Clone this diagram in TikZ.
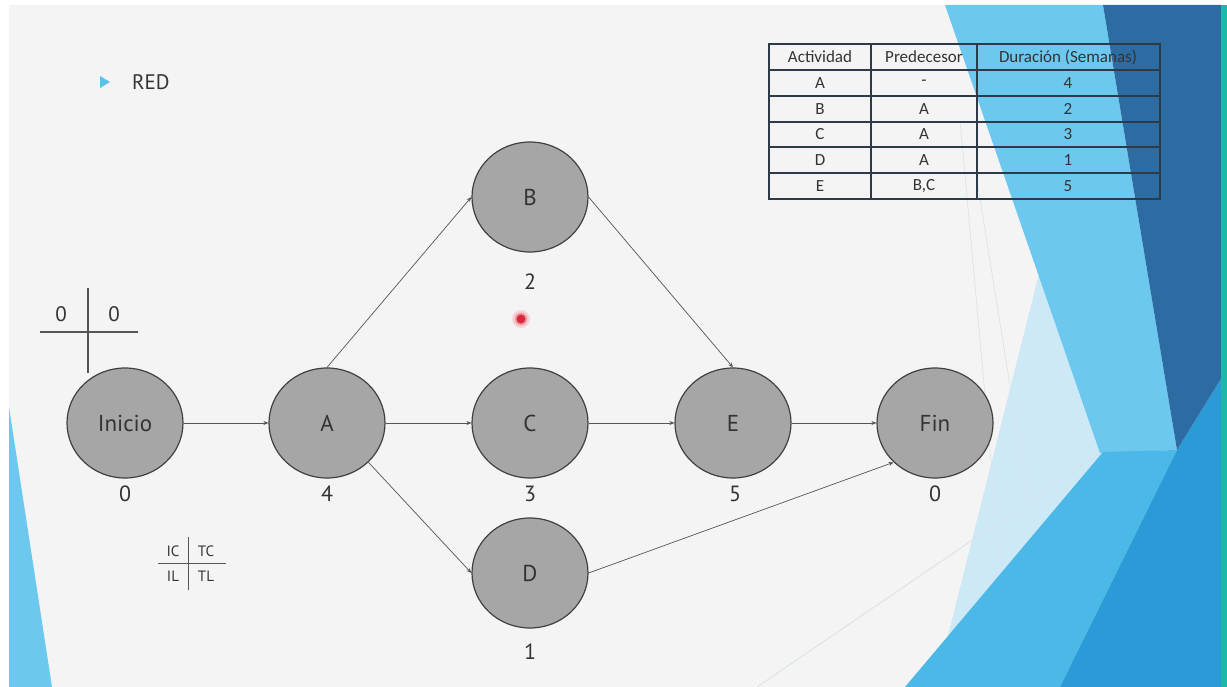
\documentclass[tikz,border=0pt]{standalone}
\usepackage{fontspec}
\setmainfont{PT Sans}
\newfontfamily\tabfont{Carlito}
\usetikzlibrary{shapes.geometric,arrows.meta}
\definecolor{slidebg}{HTML}{F4F4F4}
\definecolor{nodefill}{HTML}{A6A6A6}
\definecolor{nodeborder}{HTML}{404040}
\definecolor{txt}{HTML}{333333}
\definecolor{linkc}{HTML}{555555}
\definecolor{lblue}{HTML}{6CC8EE}
\definecolor{vlblue}{HTML}{CDE9F6}
\definecolor{dblue}{HTML}{2D6BA3}
\definecolor{mblue}{HTML}{4CB8E8}
\definecolor{m2blue}{HTML}{2A9BD6}
\definecolor{tealc}{HTML}{1FB8A8}
\definecolor{faint}{HTML}{D6E2E8}
\definecolor{tabline}{HTML}{2F3A48}
\definecolor{bullet}{HTML}{5BC0E8}
\definecolor{dotred}{HTML}{D8283C}
\begin{document}
\begin{tikzpicture}[x=1pt,y=-1pt,
  actnode/.style={ellipse, draw=nodeborder, line width=1.2pt, fill=nodefill,
    minimum width=116pt, minimum height=110pt, inner sep=0pt,
    font=\fontsize{23}{26}\selectfont, text=txt},
  durlabel/.style={font=\fontsize{22}{24}\selectfont, text=txt, inner sep=0pt},
  link/.style={draw=linkc, line width=0.7pt, -{Stealth[length=5pt,width=4pt]}},
  cell/.style={font=\tabfont\fontsize{17}{19}\selectfont, text=txt, inner sep=0pt},
  marktext/.style={font=\fontsize{21}{23}\selectfont, text=txt, inner sep=0pt},
  legtext/.style={font=\fontsize{15}{17}\selectfont, text=txt, inner sep=0pt},
  markline/.style={draw=linkc, line width=1.4pt},
  legline/.style={draw=linkc, line width=0.8pt},
  grid/.style={draw=tabline, line width=1.1pt},
]
\useasboundingbox (0,0) rectangle (1227,687);
% background
\fill[white] (0,0) rectangle (1227,687);
\fill[slidebg] (9,5) rectangle (1227,687);
% left triangle
\fill[lblue] (9,407) -- (9,687) -- (52,687) -- cycle;
% right facets
\fill[vlblue] (1040,270) -- (1103,452) -- (912,687) -- (935,687) -- cycle;
\fill[lblue] (945,5) -- (1103,5) -- (1177,450) -- (1100,453) -- cycle;
\fill[mblue] (905,687) -- (1103,452) -- (1177,450) -- (1060,687) -- cycle;
\fill[m2blue] (1060,687) -- (1177,450) -- (1222,377) -- (1222,687) -- cycle;
\fill[dblue] (1103,5) -- (1222,5) -- (1222,377) -- (1177,450) -- cycle;
\fill[tealc] (1221,5) rectangle (1227,687);
\draw[faint, line width=0.8pt] (757,687) -- (1100,453);
\draw[faint, line width=0.6pt] (977,180) -- (1030,510);
\draw[faint, line width=0.6pt] (960,120) -- (1000,560);
% title
\fill[bullet] (100,76) -- (110,82) -- (100,88) -- cycle;
\node[anchor=west, font=\fontsize{21}{23}\selectfont, text=txt, inner sep=0pt] (title) at (132,82) {RED};
% table
\draw[grid] (769,44) rectangle (1160,199);
\foreach \yy in {70,96,122,147,173} \draw[grid] (769,\yy) -- (1160,\yy);
\draw[grid] (871,44) -- (871,199);
\draw[grid] (977,44) -- (977,199);
\node[cell] (h1) at (820,57) {Actividad};
\node[cell] (h2) at (924,57) {Predecesor};
\node[cell] (h3) at (1068,57) {Duración (Semanas)};
\node[cell] (a1) at (820,83) {A};
\node[cell] (a2) at (924,83) {-};
\node[cell] (a3) at (1068,83) {4};
\node[cell] (b1) at (820,109) {B};
\node[cell] (b2) at (924,109) {A};
\node[cell] (b3) at (1068,109) {2};
\node[cell] (c1) at (820,134.5) {C};
\node[cell] (c2) at (924,134.5) {A};
\node[cell] (c3) at (1068,134.5) {3};
\node[cell] (d1) at (820,160) {D};
\node[cell] (d2) at (924,160) {A};
\node[cell] (d3) at (1068,160) {1};
\node[cell] (e1) at (820,186) {E};
\node[cell] (e2) at (924,186) {B,C};
\node[cell] (e3) at (1068,186) {5};
% marker cross
\draw[markline] (88,288) -- (88,373);
\draw[markline] (40,332) -- (138,332);
\node[marktext] (m1) at (61,314) {0};
\node[marktext] (m2) at (114,314) {0};
% legend
\draw[legline] (158,563) -- (226,563);
\draw[legline] (188,537) -- (188,590);
\node[legtext] (ic) at (173,551) {IC};
\node[legtext] (tc) at (206,551) {TC};
\node[legtext] (il) at (173,576) {IL};
\node[legtext] (tl) at (206,576) {TL};
% nodes
\node[actnode] (ini) at (125,423) {Inicio};
\node[actnode] (A) at (327,423) {A};
\node[actnode] (B) at (530,197) {B};
\node[actnode] (C) at (530,423) {C};
\node[actnode] (D) at (530,573) {D};
\node[actnode] (E) at (733,423) {E};
\node[actnode] (fin) at (935,423) {Fin};
% duration labels
\node[durlabel] (lini) at (125,494) {0};
\node[durlabel] (lA) at (327,494) {4};
\node[durlabel] (lB) at (530,282) {2};
\node[durlabel] (lC) at (530,494) {3};
\node[durlabel] (lD) at (530,652) {1};
\node[durlabel] (lE) at (735,494) {5};
\node[durlabel] (lfin) at (935,494) {0};
% connectors
\draw[link] (ini) -- (A);
\draw[link] (A.north) -- (B.west);
\draw[link] (A) -- (C);
\draw[link] (A.south east) -- (D.west);
\draw[link] (B.east) -- (E.north);
\draw[link] (C) -- (E);
\draw[link] (E) -- (fin);
\draw[link] (D.east) -- (fin.south west);
% pointer dot
\fill[dotred!20] (521,319) circle (9);
\fill[dotred!45] (521,319) circle (6.5);
\fill[dotred] (521,319) circle (4.5);
\end{tikzpicture}
\end{document}
